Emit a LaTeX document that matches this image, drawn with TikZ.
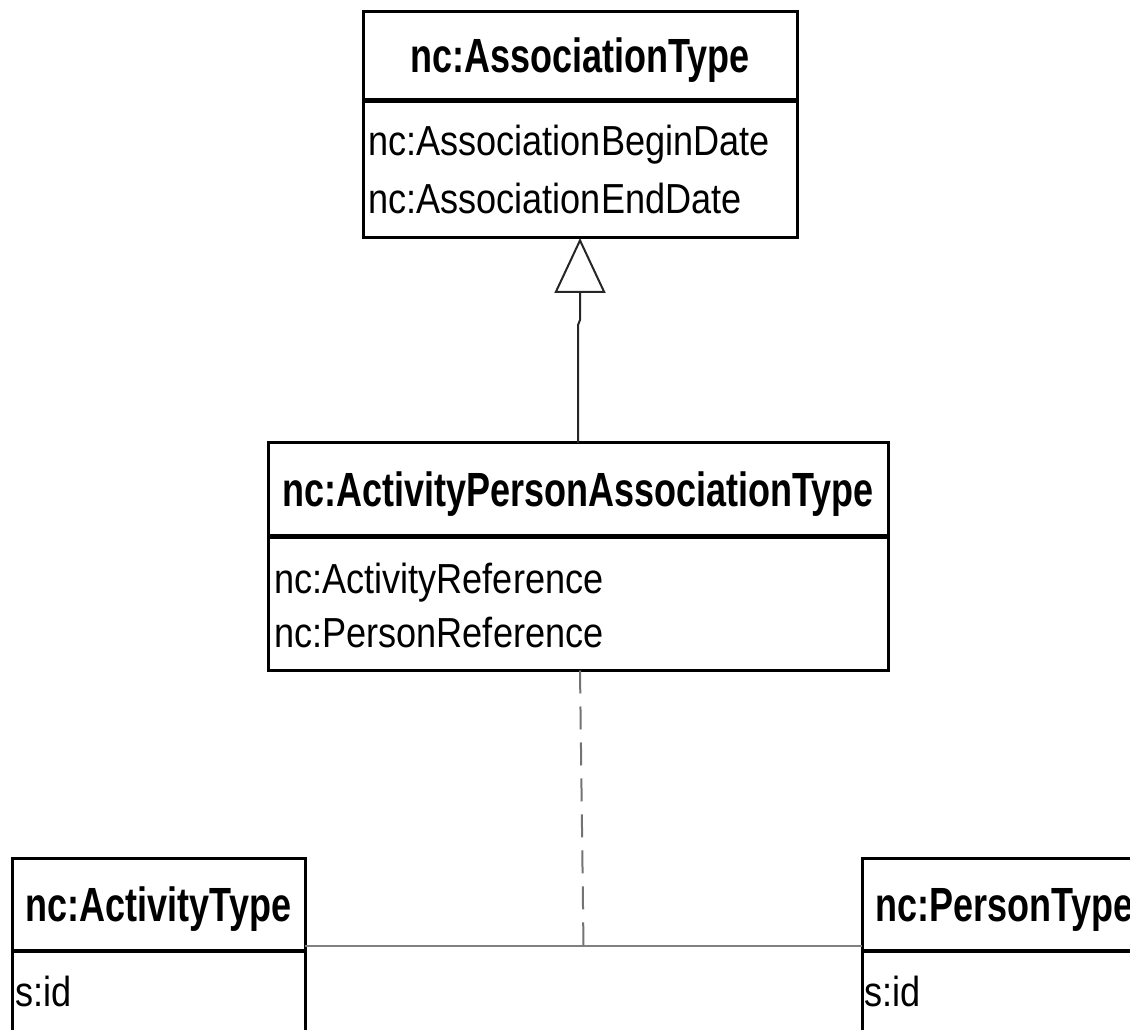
\documentclass[tikz,border=0pt]{standalone}
\usepackage{fontspec}
\setmainfont{Liberation Sans}
\newfontfamily\titlefont[FakeStretch=0.75]{Liberation Sans}
\newfontfamily\attrfont[FakeStretch=0.86]{Liberation Sans}
\usetikzlibrary{positioning,arrows.meta}

\tikzset{
  classhead/.style={draw, line width=3pt, rectangle, outer sep=0pt, inner sep=0pt,
    text height=34pt, text depth=0pt,
    font=\titlefont\bfseries\fontsize{48}{56}\selectfont},
  classbody/.style={draw, line width=3pt, rectangle, outer sep=0pt, inner sep=0pt},
  attr/.style={anchor=base west, inner sep=0pt,
    font=\attrfont\fontsize{42}{50}\selectfont},
  inherit/.style={line width=2pt, draw=black!85,
    -{Triangle[open, length=55pt, width=51pt, line width=2pt]}},
  assocline/.style={line width=2pt, draw=black!50},
  assocclass/.style={line width=2pt, draw=black!55, dash pattern=on 23pt off 13pt}
}

\begin{document}
\begin{tikzpicture}[x=1pt, y=1pt]
    \useasboundingbox (0,0) rectangle (1130,1029);
    \clip (0,0) rectangle (1130,1029);

    % Clases
    \node[classhead, minimum width=434pt, minimum height=88pt] (assoc) at (580,973) {nc:AssociationType};
    \node[classbody, minimum width=434pt, minimum height=136.5pt, below=1.5pt of assoc] (assocattr) {};

    \node[classhead, minimum width=620pt, minimum height=93pt] (apa) at (578,539.5) {nc:ActivityPersonAssociationType};
    \node[classbody, minimum width=620pt, minimum height=133pt, below=1.5pt of apa] (apaattr) {};

    \node[classhead, minimum width=293pt, minimum height=92pt] (activity) at (158.5,125) {nc:ActivityType};
    \node[classbody, minimum width=293pt, minimum height=120pt, below=1.5pt of activity] (activityattr) {};

    \node[classhead, minimum width=285pt, minimum height=92pt] (person) at (1004.5,125) {nc:PersonType};
    \node[classbody, minimum width=285pt, minimum height=120pt, below=1.5pt of person] (personattr) {};

    % Atributos
    \node[attr] (assocbegin) at ([shift={(5,-54)}]assocattr.north west) {nc:AssociationBeginDate};
    \node[attr] (assocend) at ([shift={(5,-112)}]assocattr.north west) {nc:AssociationEndDate};
    \node[attr] (apaactivity) at ([shift={(6,-56)}]apaattr.north west) {nc:ActivityReference};
    \node[attr] (apaperson) at ([shift={(6,-110)}]apaattr.north west) {nc:PersonReference};
    \node[attr] (activityid) at ([shift={(3,-55)}]activityattr.north west) {s:id};
    \node[attr] (personid) at ([shift={(2,-55)}]personattr.north west) {s:id};

    % Generalizacion
    \draw[inherit] (apa.north) -- ++(0,118) -- ([yshift=-82]assocattr.south) -- (assocattr.south);

    % Asociacion
    \draw[assocline] ([yshift=4]activity.south east) -- coordinate[midway] (assocmid) ([yshift=4]person.south west);
    \draw[assocclass] ([xshift=2]apaattr.south) -- (assocmid);
  \end{tikzpicture}
\end{document}
